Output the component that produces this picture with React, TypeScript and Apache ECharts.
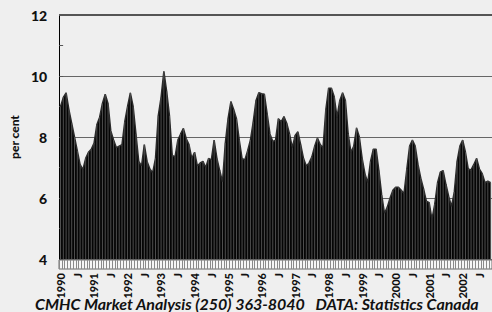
import React, { useEffect, useRef } from "react";
import * as echarts from "echarts";

const startYear = 1990;
const values: number[] = [
  9.0, 9.3, 9.45, 8.9, 8.45, 8.0, 7.55, 7.1, 6.93, 7.3, 7.5, 7.6,
  7.8, 8.4, 8.65, 9.1, 9.4, 9.1, 8.2, 7.9, 7.65, 7.7, 7.75, 8.5,
  9.0, 9.45, 9.0, 8.1, 7.2, 7.05, 7.75, 7.2, 6.95, 6.83, 7.3, 8.7,
  9.3, 10.15, 9.5, 8.7, 7.4, 7.35, 7.9, 8.1, 8.28, 7.95, 7.75, 7.3,
  7.5, 7.05, 7.15, 7.2, 7.0, 7.3, 7.25, 7.9, 7.3, 6.9, 6.53, 7.8,
  8.61, 9.16, 8.9, 8.6, 7.9, 7.3, 7.25, 7.55, 7.9, 8.5, 9.2, 9.45,
  9.42, 9.4, 8.75, 8.1, 7.85, 7.9, 8.6, 8.5, 8.67, 8.45, 8.1, 7.65,
  8.05, 8.17, 7.75, 7.3, 7.05, 7.15, 7.35, 7.7, 7.97, 7.75, 7.65, 8.9,
  9.6, 9.6, 9.32, 8.65, 9.2, 9.45, 9.2, 8.1, 7.5, 7.7, 8.3, 8.0,
  7.3, 6.8, 6.5, 7.2, 7.6, 7.6, 6.9, 6.1, 5.5, 5.7, 6.0, 6.25,
  6.35, 6.35, 6.25, 6.15, 6.95, 7.7, 7.9, 7.7, 7.1, 6.65, 6.3, 5.9,
  5.85, 5.3, 5.8, 6.5, 6.85, 6.9, 6.45, 6.05, 5.72, 6.2, 7.2, 7.7,
  7.9, 7.5, 6.95, 6.92, 7.1, 7.3, 6.95, 6.8, 6.5, 6.55, 6.5,
];
const months: string[] = values.map((_, i) => {
  const y = startYear + Math.floor(i / 12);
  const m = (i % 12) + 1;
  return `${y}-${m < 10 ? "0" + m : m}`;
});
const yTicks = [4, 6, 8, 10, 12];
const yTitle = "per cent";
const footer = "CMHC Market Analysis (250) 363-8040   DATA: Statistics Canada";

export default function App() {
  const ref = useRef<HTMLDivElement>(null);
  useEffect(() => {
    if (!ref.current) return;
    const chart = echarts.init(ref.current, undefined, { renderer: "svg" });
    const yMax = yTicks[yTicks.length - 1];
    chart.setOption({
      animation: false,
      backgroundColor: "#efefef",
      textStyle: { fontFamily: "Lato" },
      grid: [
        { left: 59, right: 0, top: 15, height: 244 },
        {
          left: 59, right: 0, top: 260, height: 9, show: true,
          backgroundColor: "#f6f6f6", borderColor: "#6a6a6a", borderWidth: 1,
        },
      ],
      xAxis: [
        {
          type: "category", data: months, gridIndex: 0, boundaryGap: true,
          axisLine: { show: false }, axisTick: { show: false },
          axisLabel: { show: false }, splitLine: { show: false },
        },
        {
          type: "category", data: months, gridIndex: 1, boundaryGap: true,
          axisLine: { show: false }, axisTick: { show: false },
          splitLine: { show: true, interval: 0, lineStyle: { color: "#8a8a8a", width: 1 } },
          axisLabel: {
            show: true, interval: 0, rotate: 90, margin: 4,
            fontSize: 11, fontWeight: 900, color: "#111", fontFamily: "Lato",
            formatter: (v: string) => {
              const m = v.slice(5);
              if (m === "01") return v.slice(0, 4);
              if (m === "07") return "J";
              return "";
            },
          },
        },
      ],
      yAxis: [
        {
          type: "value", gridIndex: 0, min: yTicks[0], max: yMax, interval: 2,
          name: yTitle, nameLocation: "middle", nameGap: 36, nameRotate: 90,
          nameTextStyle: { fontSize: 12, fontWeight: 900, color: "#111", fontFamily: "Lato" },
          axisLine: { show: true, lineStyle: { color: "#000", width: 1 } },
          axisTick: { show: true, inside: true, length: 4, lineStyle: { color: "#555" } },
          minorTick: { show: true, splitNumber: 2, length: 4, lineStyle: { color: "#555" } },
          axisLabel: { fontSize: 14, fontWeight: 900, color: "#111", margin: 12, fontFamily: "Lato" },
          splitLine: { show: true, lineStyle: { color: "#666", width: 1 } },
        },
        { type: "value", gridIndex: 1, show: false, min: 0, max: 1 },
      ],
      series: [
        {
          type: "line", xAxisIndex: 0, yAxisIndex: 0, data: values,
          symbol: "none", smooth: false, z: 2,
          lineStyle: { color: "#2a2a2a", width: 1.5 },
          areaStyle: { color: "#050505", opacity: 1 },
          markLine: {
            silent: true, symbol: "none", label: { show: false },
            lineStyle: { color: "#555", width: 2, type: "solid" },
            data: [{ yAxis: yMax }],
          },
        },
        {
          type: "bar", xAxisIndex: 0, yAxisIndex: 0, data: values,
          barWidth: 1, z: 3,
          itemStyle: { color: "#4e4e4e" },
        },
      ],
      graphic: [
        {
          type: "text", left: 35, top: 295,
          style: {
            text: footer, fontSize: 16, lineHeight: 16, fontWeight: "bold", fontStyle: "italic",
            fontFamily: "Lato", fill: "#111",
          },
        },
      ],
    });
    return () => chart.dispose();
  }, []);
  return (
    <div
      ref={ref}
      style={{ position: "absolute", left: 0, top: 0, width: 492, height: 312 }}
    />
  );
}
